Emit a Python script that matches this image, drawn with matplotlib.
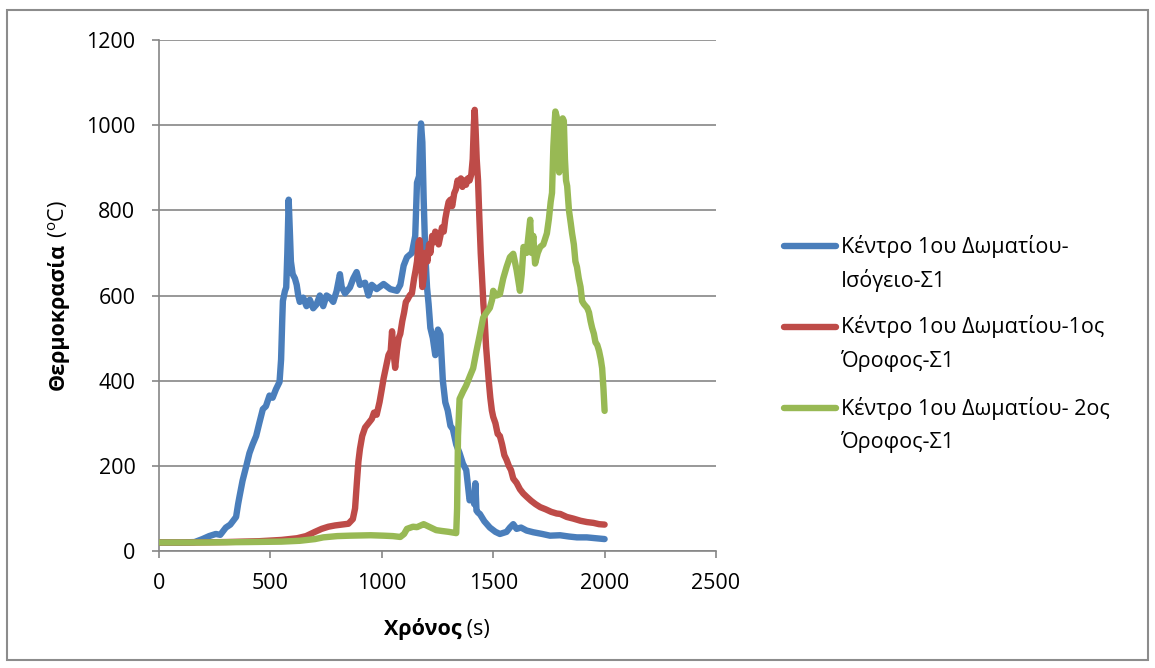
import matplotlib
matplotlib.use("Agg")
import matplotlib.pyplot as plt
from matplotlib.lines import Line2D
from matplotlib.patches import Rectangle

# ---- data -----------------------------------------------------------------
t_ground = [0, 100, 160, 195, 225, 255, 275, 300, 320, 346, 355, 361, 375, 391,
            406, 420, 436, 450, 466, 480, 496, 510, 525, 541, 548, 553, 556, 565,
            571, 576, 582, 588, 592, 600, 610, 618, 625, 632, 647, 662, 677, 692,
            707, 722, 737, 752, 767, 782, 797, 812, 820, 835, 857, 872, 887, 902,
            925, 940, 955, 977, 1008, 1038, 1068, 1083, 1098, 1113, 1135, 1150,
            1158, 1167, 1172, 1176, 1182, 1188, 1195, 1203, 1210, 1218, 1229,
            1240, 1252, 1263, 1274, 1285, 1296, 1308, 1319, 1334, 1349, 1364,
            1379, 1394, 1405, 1415, 1420, 1425, 1432, 1440, 1460, 1485, 1510,
            1530, 1560, 1575, 1590, 1605, 1625, 1650, 1680, 1720, 1755, 1800,
            1840, 1876, 1920, 1960, 2000]
T_ground = [20, 20, 21, 28, 35, 40, 38, 55, 62, 80, 110, 127, 165, 198,
            230, 250, 270, 300, 333, 340, 365, 360, 380, 397, 450, 540, 587, 610,
            619, 700, 825, 740, 680, 650, 640, 625, 600, 585, 595, 575, 590, 570,
            579, 600, 575, 600, 595, 585, 610, 650, 620, 605, 619, 640, 655, 625,
            630, 600, 625, 615, 627, 615, 611, 625, 670, 690, 700, 740,
            865, 880, 960, 1004, 960, 825, 700, 619, 580, 524, 500,
            460, 520, 508, 400, 349, 330, 294, 286, 250, 230, 205,
            190, 119, 130, 110, 159, 95, 90, 87, 70, 55, 45,
            40, 45, 55, 63, 52, 55, 48, 44, 40, 36, 37,
            34, 32, 32, 30, 28]

t_first = [0, 150, 300, 450, 550, 620, 660, 700, 730, 760, 790, 820, 850, 870,
           880, 888, 895, 902, 912, 925, 940, 955, 965, 977, 990, 1000, 1008,
           1018, 1030, 1040, 1046, 1052, 1060, 1068, 1076, 1083, 1092, 1100,
           1108, 1115, 1125, 1135, 1145, 1152, 1158, 1165, 1170, 1176, 1182,
           1188, 1196, 1205, 1212, 1218, 1226, 1233, 1240, 1248, 1255, 1263,
           1270, 1278, 1285, 1292, 1300, 1308, 1316, 1325, 1333, 1340, 1347,
           1355, 1362, 1370, 1378, 1386, 1394, 1402, 1408, 1413, 1417, 1421,
           1426, 1432, 1438, 1444, 1450, 1456, 1462, 1468, 1474, 1480, 1487,
           1494, 1500, 1510, 1520, 1530, 1540, 1550, 1560, 1570, 1580, 1590,
           1605, 1620, 1635, 1651, 1670, 1690, 1711, 1735, 1760, 1785, 1801,
           1830, 1860, 1892, 1920, 1950, 1975, 2000]
T_first = [20, 20, 21, 23, 26, 30, 35, 45, 52, 57, 60, 62, 64, 75,
           100, 160, 210, 240, 270, 290, 300, 310, 325, 320, 350, 380, 405,
           430, 460, 470, 516, 470, 430, 470, 500, 510, 540, 560,
           585, 590, 600, 605, 640, 660, 680, 725, 730, 680, 620,
           640, 700, 680, 720, 700, 740, 725, 750, 745, 720, 740,
           760, 750, 780, 800, 820, 825, 810, 840, 850, 870, 860,
           875, 855, 870, 860, 875, 870, 885, 920, 1000, 1036, 990,
           920, 870, 780, 700, 640, 580, 540, 480, 440, 400, 360,
           330, 315, 300, 275, 270, 250, 225, 214, 200, 190, 170,
           160, 145, 135, 127, 118, 110, 103, 98, 92, 88, 87,
           80, 76, 71, 68, 66, 63, 62]

t_second = [0, 200, 400, 550, 632, 700, 737, 800, 857, 950, 1008, 1050, 1083,
            1100, 1113, 1140, 1158, 1175, 1188, 1200, 1220, 1244, 1270, 1300,
            1334, 1338, 1342, 1349, 1365, 1379, 1395, 1410, 1425, 1440, 1455,
            1470, 1485, 1495, 1500, 1515, 1530, 1545, 1560, 1575, 1590, 1605,
            1620, 1628, 1636, 1650, 1666, 1672, 1680, 1688, 1700, 1711, 1725,
            1741, 1750, 1758, 1764, 1770, 1775, 1779, 1785, 1790, 1796, 1801,
            1807, 1812, 1817, 1822, 1827, 1832, 1840, 1848, 1854, 1862, 1869,
            1876, 1884, 1892, 1899, 1907, 1915, 1922, 1930, 1937, 1944, 1952,
            1959, 1967, 1975, 1983, 1989, 1995, 2000]
T_second = [20, 20, 21, 22, 24, 28, 32, 35, 36, 37, 36, 35, 33,
            40, 52, 57, 56, 60, 63, 60, 55, 49, 47, 45,
            42, 100, 270, 357, 375, 389, 410, 429, 470, 508, 548,
            560, 571, 590, 611, 600, 603, 640, 667, 690, 698, 660,
            611, 650, 714, 700, 778, 700, 740, 675, 700, 714, 720,
            746, 780, 820, 841, 950, 1000, 1032, 1020, 960, 889, 930,
            980, 1016, 1010, 920, 870, 857, 800, 770, 746, 720, 680,
            667, 640, 620, 587, 580, 575, 571, 560, 540, 524, 510,
            490, 484, 470, 450, 429, 380, 329]

series_labels = ["Κέντρο 1ου Δωματίου-\nΙσόγειο-Σ1",
                 "Κέντρο 1ου Δωματίου-1ος\nΌροφος-Σ1",
                 "Κέντρο 1ου Δωματίου- 2ος\nΌροφος-Σ1"]
series_colors = ["#4A7EBB", "#BE4B48", "#98B954"]

x_ticks = [0, 500, 1000, 1500, 2000, 2500]
y_ticks = [0, 200, 400, 600, 800, 1000, 1200]

# ---- style ----------------------------------------------------------------
plt.rcParams["font.family"] = ["Open Sans", "DejaVu Sans"]
plt.rcParams["mathtext.fontset"] = "custom"
plt.rcParams["mathtext.rm"] = "Open Sans"

W, H = 1155, 668
fig = plt.figure(figsize=(W / 100, H / 100), dpi=100)
ax = fig.add_axes([159 / W, 1 - 551 / H, (716 - 159) / W, (551 - 40) / H])

grey = "#868686"
LW = 4.6
for t, T, c in zip([t_ground, t_first, t_second],
                   [T_ground, T_first, T_second], series_colors):
    ax.plot(t, T, color=c, lw=LW, solid_capstyle="round",
            solid_joinstyle="round", zorder=3)

ax.set_xlim(0, 2500)
ax.set_ylim(0, 1200)
ax.set_xticks(x_ticks)
ax.set_yticks(y_ticks)
ax.yaxis.grid(True, color=grey, lw=1.2)
ax.set_axisbelow(True)
for s in ["top", "right"]:
    ax.spines[s].set_visible(False)
for s in ["left", "bottom"]:
    ax.spines[s].set_color(grey)
    ax.spines[s].set_linewidth(1.2)
ax.tick_params(axis="both", direction="out", length=5, width=1.2, color=grey,
               labelsize=15.5, labelcolor="black")
ax.tick_params(axis="y", pad=12)
ax.tick_params(axis="x", pad=11)

# ---- axis titles (bold word + regular unit) -------------------------------
fig.canvas.draw()
renderer = fig.canvas.get_renderer()

def two_part(cx, cy, bold, regular, rotation):
    t1 = fig.text(0, 0, bold, fontsize=15.5, fontweight="bold",
                  rotation=rotation, ha="left", va="center")
    t2 = fig.text(0, 0, regular, fontsize=15.5,
                  rotation=rotation, ha="left", va="center")
    e1 = t1.get_window_extent(renderer)
    e2 = t2.get_window_extent(renderer)
    if rotation == 0:
        total = e1.width + e2.width
        x0 = cx - total / 2
        t1.set_position((x0 / W, 1 - cy / H))
        t2.set_position(((x0 + e1.width) / W, 1 - cy / H))
    else:
        t1.set_ha("center"); t2.set_ha("center")
        t1.set_va("bottom"); t2.set_va("bottom")
        total = e1.height + e2.height
        y0 = (H - cy) - total / 2
        t1.set_position((cx / W, y0 / H))
        t2.set_position((cx / W, (y0 + e1.height) / H))

two_part(437, 629, "Χρόνος", " (s)", 0)
two_part(58, 295, "Θερμοκρασία", " (${}^{\\mathrm{o}}$C)", 90)

# ---- legend ---------------------------------------------------------------
legend_rows = [246, 327, 408]
for lab, c, y in zip(series_labels, series_colors, legend_rows):
    fig.add_artist(Line2D([784 / W, 836 / W], [1 - y / H, 1 - y / H],
                          color=c, lw=LW, solid_capstyle="round"))
    for j, line in enumerate(lab.split("\n")):
        fig.text(841 / W, 1 - (y + 34 * j) / H, line, fontsize=15.5,
                 ha="left", va="center")

# ---- chart frame ----------------------------------------------------------
fig.add_artist(Rectangle((7 / W, 8 / H), (1148 - 7) / W, (658 - 8) / H,
                         transform=fig.transFigure, fill=False,
                         edgecolor="#8C8C8C", lw=1.5))

fig.savefig("out.png", dpi=100)
